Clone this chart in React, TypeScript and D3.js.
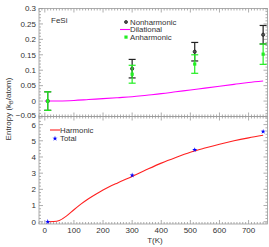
import React from 'react'
import * as d3 from 'd3'

// temperatures of the measured points
const tempsPts = [10, 300, 515, 750]
const nonharmonic = [0, 0.105, 0.16, 0.215]
const nonharmonicErr = [0.03, 0.03, 0.03, 0.03]
const anharmonic = [0, 0.087, 0.12, 0.152]
const anharmonicErr = [0.03, 0.029, 0.03, 0.033]
const total = [0.0, 2.87, 4.44, 5.57]

// dilational curve
const dilT = [0, 50, 100, 150, 200, 250, 300, 350, 400, 450, 500, 550, 600, 650, 700, 750]
const dilS = [0, 0.0003, 0.002, 0.005, 0.008, 0.011, 0.014, 0.019, 0.024, 0.03, 0.036, 0.042, 0.048, 0.054, 0.06, 0.065]

// harmonic curve
const harmT = [10, 30, 50, 75, 100, 125, 150, 175, 200, 250, 300, 350, 400, 450, 500, 550, 600, 650, 700, 750]
const harmS = [0, 0.01, 0.08, 0.36, 0.74, 1.1, 1.42, 1.7, 1.96, 2.4, 2.8, 3.22, 3.62, 3.97, 4.29, 4.55, 4.79, 5.0, 5.18, 5.34]

const xTicks = [0, 100, 200, 300, 400, 500, 600, 700]
const topTicks = [-0.05, 0, 0.05, 0.1, 0.15, 0.2, 0.25, 0.3]
const botTicks = [0, 1, 2, 3, 4, 5, 6]

const W = 269
const H = 247
const left = 39
const right = 267.5
const font = 'Liberation Sans, Arial, sans-serif'
const frame = '#999'
const txt = '#333'

export default function App() {
  const x = d3.scaleLinear().domain([-20, 765]).range([left, right])
  const yTop = d3.scaleLinear().domain([-0.05, 0.3]).range([116.5, 8.5])
  const yBot = d3.scaleLinear().domain([-0.14, 6.5]).range([224, 116.5])

  const dilLine = d3.line<number>().x((d, i) => x(dilT[i])).y(d => yTop(d)).curve(d3.curveMonotoneX)
  const harmLine = d3.line<number>().x((d, i) => x(harmT[i])).y(d => yBot(d)).curve(d3.curveMonotoneX)
  const star = d3.symbol().type(d3.symbolStar).size(8)()

  // ticks on every side of a panel
  const frameTicks = (y: d3.ScaleLinear<number, number>, yMajor: number[], yMinorStep: number) => {
    const [y0, y1] = y.domain()
    const [b, t] = y.range()
    const out: JSX.Element[] = []
    d3.range(-20, 766, 10).forEach(v => {
      const major = v % 100 === 0
      const len = major ? 4 : 2
      out.push(<line key={'xb' + v} x1={x(v)} x2={x(v)} y1={b} y2={b - len} />)
      out.push(<line key={'xt' + v} x1={x(v)} x2={x(v)} y1={t} y2={t + len} />)
    })
    d3.range(Math.ceil(y0 / yMinorStep) * yMinorStep, y1 + 1e-9, yMinorStep).forEach((v, i) => {
      const major = yMajor.some(m => Math.abs(m - v) < 1e-9)
      const len = major ? 4 : 2
      out.push(<line key={'yl' + i} x1={left} x2={left + len} y1={y(v)} y2={y(v)} />)
      out.push(<line key={'yr' + i} x1={right} x2={right - len} y1={y(v)} y2={y(v)} />)
    })
    return out
  }

  const errBar = (cx: number, lo: number, hi: number, color: string, key: string) => (
    <g key={key} stroke={color} strokeWidth={1.2}>
      <line x1={cx} x2={cx} y1={lo} y2={hi} />
      <line x1={cx - 3.5} x2={cx + 3.5} y1={lo} y2={lo} />
      <line x1={cx - 3.5} x2={cx + 3.5} y1={hi} y2={hi} />
    </g>
  )

  return (
    <svg width={W} height={H} style={{ position: 'absolute', left: 0, top: 0 }} fontFamily={font}>
      <rect width={W} height={H} fill="white" />
      {/* frames */}
      <g stroke={frame} strokeWidth={0.8} fill="none">
        <rect x={left} y={8.5} width={right - left} height={108} />
        <rect x={left} y={116.5} width={right - left} height={107.5} />
        {frameTicks(yTop, topTicks, 0.01)}
        {frameTicks(yBot, botTicks, 0.2)}
      </g>

      {/* y tick labels */}
      <g fontSize={8} fill={txt} textAnchor="end">
        {topTicks.map(t => (
          <text key={'tt' + t} x={36} y={yTop(t) - (t < 0 ? 1 : 0)} dy="0.35em">{d3.format('~g')(t)}</text>
        ))}
        {botTicks.map(t => (
          <text key={'bt' + t} x={36} y={yBot(t) + (t === 6 ? 0.8 : 0)} dy="0.35em">{t}</text>
        ))}
      </g>
      <g fontSize={8} fill={txt} textAnchor="middle">
        {xTicks.map(t => (
          <text key={'xt' + t} x={x(t)} y={233}>{t}</text>
        ))}
        <text x={155} y={243}>T(K)</text>
      </g>
      <text transform="translate(10.5,109) rotate(-90)" fontSize={8} fill={txt} textAnchor="middle">
        Entropy (k<tspan fontSize={5.5} dy={2}>B</tspan><tspan dy={-2}>/atom)</tspan>
      </text>

      {/* top panel */}
      <path d={dilLine(dilS) ?? ''} fill="none" stroke="#ff00ff" strokeWidth={1.1} />
      {tempsPts.map((t, i) =>
        errBar(x(t), yTop(nonharmonic[i] - nonharmonicErr[i]), yTop(nonharmonic[i] + nonharmonicErr[i]), '#222', 'ne' + i)
      )}
      {tempsPts.map((t, i) => (
        <circle key={'nc' + i} cx={x(t)} cy={yTop(nonharmonic[i])} r={1.6} fill="#555" stroke="#111" strokeWidth={0.7} />
      ))}
      {tempsPts.map((t, i) =>
        errBar(x(t), yTop(anharmonic[i] - anharmonicErr[i]), yTop(anharmonic[i] + anharmonicErr[i]), '#22ee22', 'ae' + i)
      )}
      {tempsPts.map((t, i) => (
        <rect key={'as' + i} x={x(t) - 1.6} y={yTop(anharmonic[i]) - 1.6} width={3.2} height={3.2} fill="#22ee22" />
      ))}

      <text x={51} y={23} fontSize={8} fill={txt}>FeSi</text>
      <g fontSize={7.8} fill={txt}>
        <circle cx={126} cy={22} r={1.5} fill="#555" stroke="#111" strokeWidth={0.7} />
        <text x={130} y={24.8}>Nonharmonic</text>
        <line x1={120} x2={130} y1={29.5} y2={29.5} stroke="#ff00ff" strokeWidth={1.1} />
        <text x={130} y={32.3}>Dilational</text>
        <rect x={124.4} y={35.5} width={3.2} height={3.2} fill="#22ee22" />
        <text x={130} y={39.8}>Anharmonic</text>
      </g>

      {/* bottom panel */}
      <path d={harmLine(harmS) ?? ''} fill="none" stroke="#ff2020" strokeWidth={1.1} />
      {tempsPts.map((t, i) => (
        <path key={'st' + i} d={star ?? ''} transform={`translate(${x(t)},${yBot(total[i])})`} fill="#0000ff" />
      ))}
      <g fontSize={7.8} fill={txt}>
        <line x1={50} x2={60} y1={130} y2={130} stroke="#ff2020" strokeWidth={1.1} />
        <text x={60} y={132.8}>Harmonic</text>
        <path d={star ?? ''} transform="translate(55,138.5)" fill="#0000ff" />
        <text x={60} y={141.3}>Total</text>
      </g>
    </svg>
  )
}
